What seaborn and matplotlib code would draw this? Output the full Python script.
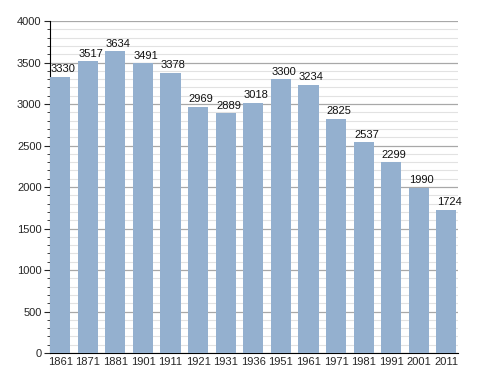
import matplotlib
matplotlib.use("Agg")
import matplotlib.pyplot as plt
from matplotlib.ticker import MultipleLocator
import seaborn as sns
import pandas as pd

# Population by census year
years = ['1861', '1871', '1881', '1901', '1911', '1921', '1931', '1936',
         '1951', '1961', '1971', '1981', '1991', '2001', '2011']
population = [3330, 3517, 3634, 3491, 3378, 2969, 2889, 3018,
              3300, 3234, 2825, 2537, 2299, 1990, 1724]

df = pd.DataFrame({'year': years, 'population': population})

sns.set_style("white")
plt.rcParams['font.family'] = ['Liberation Sans', 'DejaVu Sans']

fig = plt.figure(figsize=(4.88, 3.73), dpi=100)
ax = fig.add_axes([0.1025, 0.0536, 0.836, 0.89])

sns.barplot(data=df, x='year', y='population', color='#94b0cf',
            saturation=1, width=0.73, linewidth=0, ax=ax, zorder=3)

# value labels above each bar
for i, v in enumerate(population):
    ax.text(i + 0.1, v + 30, str(v), ha='center', va='bottom', fontsize=8,
            color='#111111', zorder=4)

ax.set_ylim(0, 4000)
ax.set_xlim(-0.37, 14.42)
ax.yaxis.set_major_locator(MultipleLocator(500))
ax.yaxis.set_minor_locator(MultipleLocator(100))
ax.grid(which='major', axis='y', color='#a8a8a8', linewidth=0.9, zorder=0)
ax.grid(which='minor', axis='y', color='#e2e2e2', linewidth=0.8, zorder=0)
ax.set_axisbelow(True)

ax.set_xlabel('')
ax.set_ylabel('')
for side in ['top', 'right']:
    ax.spines[side].set_visible(False)
ax.spines['left'].set_color('black')
ax.spines['bottom'].set_color('black')
ax.tick_params(axis='y', which='major', length=4, width=0.8, labelsize=8, pad=2, left=True)
ax.tick_params(axis='y', which='minor', length=2, width=0.6, left=True)
ax.tick_params(axis='x', length=0, labelsize=8, pad=3)

fig.savefig('out.png', dpi=100)
